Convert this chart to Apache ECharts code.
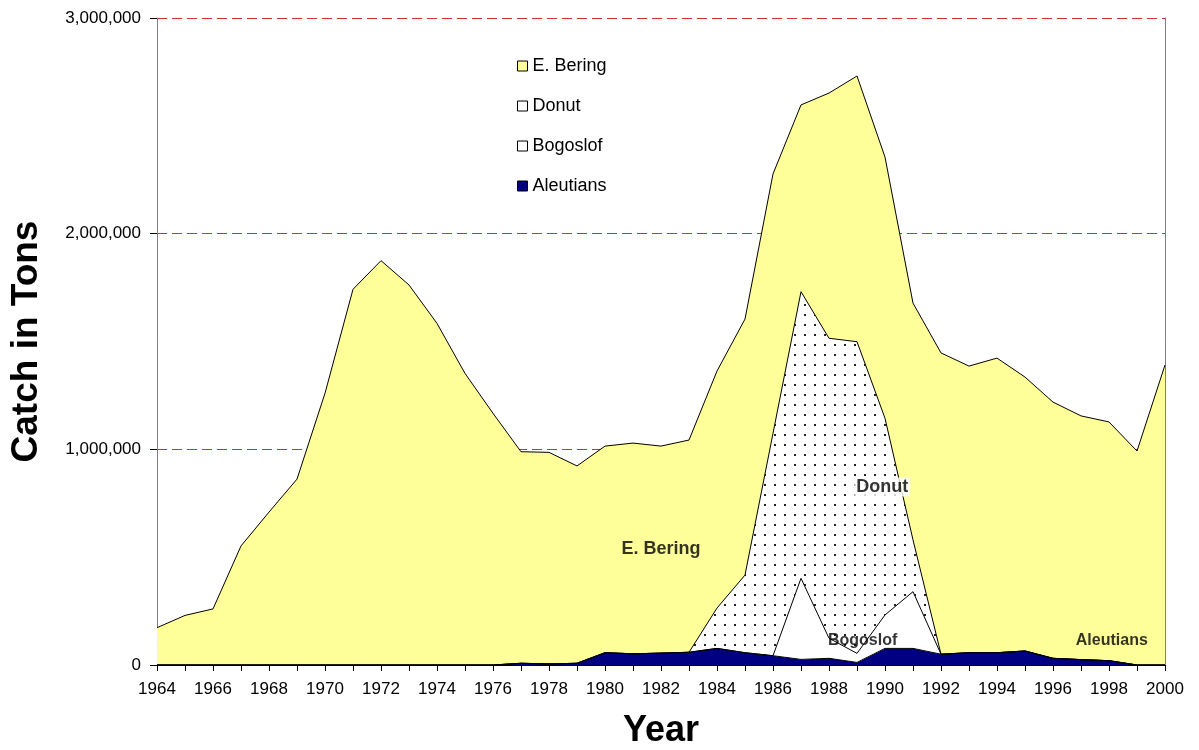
<!DOCTYPE html>
<html><head><meta charset="utf-8">
<script src="https://cdn.jsdelivr.net/npm/echarts@6/dist/echarts.min.js"></script>
<style>html,body{margin:0;padding:0;background:#fff}#c{width:1199px;height:750px}</style>
</head><body><div id="c"></div>
<script>
const years = ['1964','1965','1966','1967','1968','1969','1970','1971','1972','1973','1974','1975','1976','1977','1978','1979','1980','1981','1982','1983','1984','1985','1986','1987','1988','1989','1990','1991','1992','1993','1994','1995','1996','1997','1998','1999','2000'];
const aleutians = [0,0,0,0,0,0,0,0,0,0,0,0,0,8000,5000,8000,57000,52000,55000,59000,77000,57000,43000,26000,31000,12000,77000,77000,50000,57000,57000,65000,31000,25000,20000,0,0];
const bogoslof = [0,0,0,0,0,0,0,0,0,0,0,0,0,0,0,0,0,0,0,0,0,0,0,376000,93000,42000,155000,263000,0,0,0,0,0,0,0,0,0];
const donut = [0,0,0,0,0,0,0,0,0,0,0,0,0,0,0,0,0,0,0,0,187000,360000,1031000,1329000,1391000,1445000,912000,240000,0,0,0,0,0,0,0,0,0];
const eBering = [173000,230000,260000,552000,709000,862000,1260000,1742000,1875000,1762000,1584000,1352000,1167000,981000,981000,915000,958000,977000,960000,984000,1099000,1187000,1203000,866000,1137000,1232000,1211000,1098000,1397000,1329000,1366000,1270000,1188000,1130000,1107000,992000,1391000];
const yTicks = [0,1000000,2000000,3000000];
// in-chart annotations: [text, year, value]
const annotations = [['E. Bering',1982,538000],['Donut',1989.9,825000],['Bogoslof',1989.2,111000],['Aleutians',1998.1,111000]];

const pat = document.createElement('canvas');
pat.width = 10; pat.height = 10;
const pc = pat.getContext('2d');
pc.fillStyle = '#fff'; pc.fillRect(0,0,10,10);
pc.fillStyle = '#222'; pc.fillRect(4,4,2,2);

const FONT = 'Liberation Sans, Arial, sans-serif';
const mk = (name, arr, fill, area) => ({
  name, type:'line', stack:'total', data:arr, symbol:'none', showSymbol:false,
  lineStyle:{color:'#000',width:1}, areaStyle:{color: area || fill, opacity:1},
  itemStyle:{color: fill}
});
const base = {color:'#000', textBorderWidth:0, textBorderColor:'transparent', fontWeight:'bold', fontFamily:FONT};
const labelStyles = [
  Object.assign({fontSize:18}, base),
  Object.assign({fontSize:18, backgroundColor:'#fff', padding:[1,2,0,2]}, base),
  Object.assign({fontSize:16}, base),
  Object.assign({fontSize:16}, base)
];
const chart = echarts.init(document.getElementById('c'));
chart.setOption({
  animation:false,
  backgroundColor:'#fff',
  grid:{left:157,right:34,top:18,bottom:85,containLabel:false,outerBoundsMode:'none'},
  legend:{
    orient:'vertical', left:512, top:52, itemGap:22, icon:'rect', itemWidth:10, itemHeight:10,
    textStyle:{fontFamily:FONT,fontSize:18,color:'#000'},
    itemStyle:{borderColor:'#000',borderWidth:1},
    data:[
      {name:'E. Bering',itemStyle:{color:'#FFFF99'}},
      {name:'Donut',itemStyle:{color:'#fff'}},
      {name:'Bogoslof',itemStyle:{color:'#fff'}},
      {name:'Aleutians',itemStyle:{color:'#000080'}}
    ]
  },
  xAxis:[{
    type:'category', data:years, boundaryGap:false,
    name:'Year', nameLocation:'middle', nameGap:48,
    nameTextStyle:{fontFamily:FONT,fontSize:36,fontWeight:'bold',color:'#000'},
    axisLine:{show:true,lineStyle:{color:'#000',width:1}},
    axisTick:{show:true,length:6,interval:0,lineStyle:{color:'#000'}},
    axisLabel:{fontFamily:FONT,fontSize:17,color:'#000',margin:16,interval:1},
    splitLine:{show:false}
  },{
    type:'value', min:1964, max:2000, show:false
  }],
  yAxis:[{
    type:'value', min:yTicks[0], max:yTicks[yTicks.length-1], interval:1000000,
    name:'Catch in Tons', nameLocation:'middle', nameGap:112, nameRotate:90,
    nameTextStyle:{fontFamily:FONT,fontSize:37,fontWeight:'bold',color:'#000'},
    axisLine:{show:true,lineStyle:{color:'#808080',width:1}},
    axisTick:{show:true,length:7,lineStyle:{color:'#000'}},
    axisLabel:{fontFamily:FONT,fontSize:17,color:'#000',margin:16,
      formatter:v=>v.toLocaleString('en-US')},
    splitLine:{show:true,lineStyle:{color:'#d03030',type:[10,5],width:1}}
  },{
    type:'value', min:yTicks[0], max:yTicks[yTicks.length-1], position:'right',
    axisLine:{show:true,lineStyle:{color:'#808080',width:1}},
    axisTick:{show:false}, axisLabel:{show:false}, splitLine:{show:false}
  }],
  series:[
    mk('Aleutians', aleutians, '#000080'),
    mk('Bogoslof', bogoslof, '#ffffff'),
    mk('Donut', donut, '#ffffff', {image:pat, repeat:'repeat'}),
    mk('E. Bering', eBering, '#FFFF99'),
    {
      name:'labels', type:'scatter', xAxisIndex:1, yAxisIndex:0, symbolSize:0, z:10, silent:true,
      data: annotations.map((a,i)=>({value:[a[1],a[2]], name:a[0], label:labelStyles[i]})),
      label:Object.assign({show:true, position:'inside', formatter:p=>p.name, fontSize:16}, base),
      labelLayout:{hideOverlap:false}
    }
  ]
});
</script>
</body></html>
